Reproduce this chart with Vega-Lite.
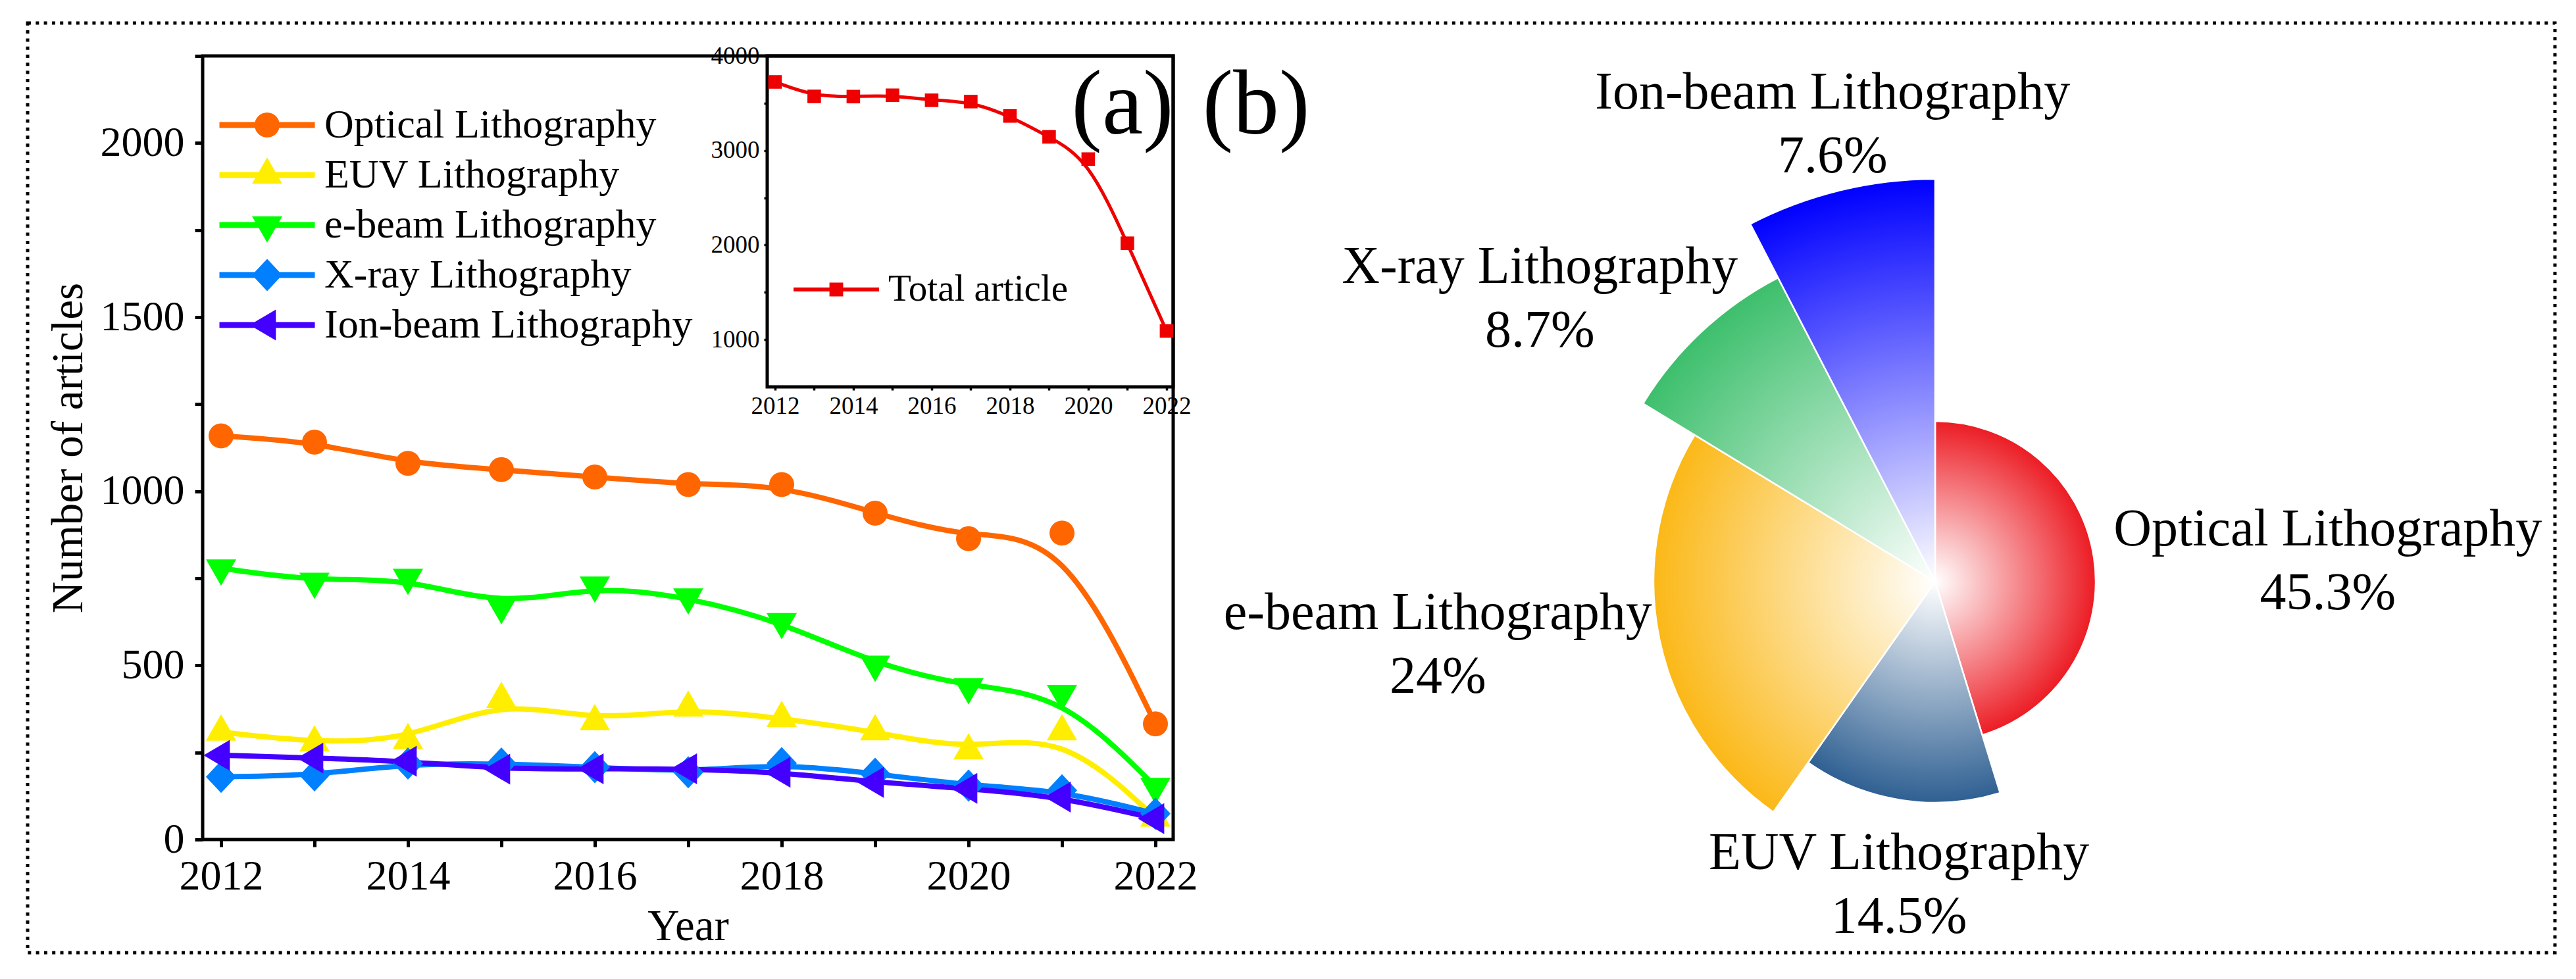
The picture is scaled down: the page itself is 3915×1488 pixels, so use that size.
{
  "$schema": "https://vega.github.io/schema/vega-lite/v6.json",
  "width": 3841,
  "height": 1413,
  "autosize": "none",
  "padding": {"left": 42, "top": 35, "right": 32, "bottom": 40},
  "background": "white",
  "config": {
    "view": {"stroke": "black", "strokeWidth": 5, "strokeDash": [5, 7.3]},
    "font": "Liberation Serif",
    "axis": {"labelFont": "Liberation Serif", "titleFont": "Liberation Serif", "labelColor": "black", "titleColor": "black", "tickColor": "black", "domain": false, "grid": false, "labelFlush": false, "labelOverlap": false, "titleFontWeight": "normal"},
    "legend": {"labelFont": "Liberation Serif", "labelColor": "black"},
    "text": {"font": "Liberation Serif", "color": "black"}
  },
  "datasets": {
    "lines": [
      {"series": "Optical Lithography", "year": 2012, "articles": 1159},
      {"series": "Optical Lithography", "year": 2013, "articles": 1141},
      {"series": "Optical Lithography", "year": 2014, "articles": 1080},
      {"series": "Optical Lithography", "year": 2015, "articles": 1062},
      {"series": "Optical Lithography", "year": 2016, "articles": 1041},
      {"series": "Optical Lithography", "year": 2017, "articles": 1019},
      {"series": "Optical Lithography", "year": 2018, "articles": 1019},
      {"series": "Optical Lithography", "year": 2019, "articles": 937},
      {"series": "Optical Lithography", "year": 2020, "articles": 864},
      {"series": "Optical Lithography", "year": 2021, "articles": 880},
      {"series": "Optical Lithography", "year": 2022, "articles": 332},
      {"series": "EUV Lithography", "year": 2012, "articles": 309},
      {"series": "EUV Lithography", "year": 2013, "articles": 278},
      {"series": "EUV Lithography", "year": 2014, "articles": 285},
      {"series": "EUV Lithography", "year": 2015, "articles": 403},
      {"series": "EUV Lithography", "year": 2016, "articles": 339},
      {"series": "EUV Lithography", "year": 2017, "articles": 378},
      {"series": "EUV Lithography", "year": 2018, "articles": 348},
      {"series": "EUV Lithography", "year": 2019, "articles": 310},
      {"series": "EUV Lithography", "year": 2020, "articles": 255},
      {"series": "EUV Lithography", "year": 2021, "articles": 310},
      {"series": "EUV Lithography", "year": 2022, "articles": 62},
      {"series": "e-beam Lithography", "year": 2012, "articles": 779},
      {"series": "e-beam Lithography", "year": 2013, "articles": 741},
      {"series": "e-beam Lithography", "year": 2014, "articles": 752},
      {"series": "e-beam Lithography", "year": 2015, "articles": 668},
      {"series": "e-beam Lithography", "year": 2016, "articles": 730},
      {"series": "e-beam Lithography", "year": 2017, "articles": 696},
      {"series": "e-beam Lithography", "year": 2018, "articles": 625},
      {"series": "e-beam Lithography", "year": 2019, "articles": 503},
      {"series": "e-beam Lithography", "year": 2020, "articles": 438},
      {"series": "e-beam Lithography", "year": 2021, "articles": 419},
      {"series": "e-beam Lithography", "year": 2022, "articles": 152},
      {"series": "X-ray Lithography", "year": 2012, "articles": 180},
      {"series": "X-ray Lithography", "year": 2013, "articles": 184},
      {"series": "X-ray Lithography", "year": 2014, "articles": 218},
      {"series": "X-ray Lithography", "year": 2015, "articles": 218},
      {"series": "X-ray Lithography", "year": 2016, "articles": 208},
      {"series": "X-ray Lithography", "year": 2017, "articles": 193},
      {"series": "X-ray Lithography", "year": 2018, "articles": 219},
      {"series": "X-ray Lithography", "year": 2019, "articles": 189},
      {"series": "X-ray Lithography", "year": 2020, "articles": 155},
      {"series": "X-ray Lithography", "year": 2021, "articles": 141},
      {"series": "X-ray Lithography", "year": 2022, "articles": 74},
      {"series": "Ion-beam Lithography", "year": 2012, "articles": 242},
      {"series": "Ion-beam Lithography", "year": 2013, "articles": 234},
      {"series": "Ion-beam Lithography", "year": 2014, "articles": 225},
      {"series": "Ion-beam Lithography", "year": 2015, "articles": 202},
      {"series": "Ion-beam Lithography", "year": 2016, "articles": 203},
      {"series": "Ion-beam Lithography", "year": 2017, "articles": 203},
      {"series": "Ion-beam Lithography", "year": 2018, "articles": 193},
      {"series": "Ion-beam Lithography", "year": 2019, "articles": 164},
      {"series": "Ion-beam Lithography", "year": 2020, "articles": 147},
      {"series": "Ion-beam Lithography", "year": 2021, "articles": 122},
      {"series": "Ion-beam Lithography", "year": 2022, "articles": 60}
    ],
    "total": [
      {"series": "Total article", "year": 2012, "total": 3725},
      {"series": "Total article", "year": 2013, "total": 3572},
      {"series": "Total article", "year": 2014, "total": 3570},
      {"series": "Total article", "year": 2015, "total": 3584},
      {"series": "Total article", "year": 2016, "total": 3531},
      {"series": "Total article", "year": 2017, "total": 3517},
      {"series": "Total article", "year": 2018, "total": 3365},
      {"series": "Total article", "year": 2019, "total": 3144},
      {"series": "Total article", "year": 2020, "total": 2909},
      {"series": "Total article", "year": 2021, "total": 2019},
      {"series": "Total article", "year": 2022, "total": 1091}
    ],
    "pie": [
      {"name": "Optical Lithography", "pct": 45.3, "rank": 1, "idx": 1, "label": "Optical Lithography\n45.3%"},
      {"name": "EUV Lithography", "pct": 14.5, "rank": 2, "idx": 2, "label": "EUV Lithography\n14.5%"},
      {"name": "e-beam Lithography", "pct": 24, "rank": 3, "idx": 3, "label": "e-beam Lithography\n24%"},
      {"name": "X-ray Lithography", "pct": 8.7, "rank": 4, "idx": 4, "label": "X-ray Lithography\n8.7%"},
      {"name": "Ion-beam Lithography", "pct": 7.6, "rank": 5, "idx": 5, "label": "Ion-beam Lithography\n7.6%"}
    ]
  },
  "resolve": {"scale": {"x": "independent", "y": "independent"}, "axis": {"x": "independent", "y": "independent"}},
  "layer": [
    {
      "layer": [
        {
          "data": {"values": [{}]},
          "mark": {"type": "rect", "filled": false, "color": "black", "strokeWidth": 5},
          "encoding": {
            "x": {"datum": 2011.803, "type": "quantitative",
                  "scale": {"domain": [2011.803, 2022.19], "range": [266, 1741], "nice": false, "zero": false},
                  "axis": {"orient": "bottom", "offset": -172, "values": [2012, 2013, 2014, 2015, 2016, 2017, 2018, 2019, 2020, 2021, 2022], "format": "d",
                           "labelExpr": "datum.value % 2 === 0 ? datum.label : ''", "labelFontSize": 64, "labelPadding": 13,
                           "tickSize": 11, "tickWidth": 5, "title": "Year", "titleFontSize": 67, "titleY": 152, "titleBaseline": "alphabetic",
                           "encode": {"ticks": {"update": {"y2": {"signal": "datum.value % 2 === 0 ? -24 : 11"}}}}}},
            "x2": {"datum": 2022.19},
            "y": {"datum": 0, "type": "quantitative",
                  "scale": {"domain": [0, 2250], "range": [1241, 50], "nice": false, "zero": false},
                  "axis": {"orient": "left", "offset": -266, "values": [0, 250, 500, 750, 1000, 1250, 1500, 1750, 2000, 2250], "format": "d",
                           "labelExpr": "datum.value % 500 === 0 ? datum.label : ''", "labelFontSize": 64, "labelPadding": 16,
                           "tickSize": 12, "tickWidth": 5, "title": "Number of articles", "titleFontSize": 67, "titleAngle": 270, "titleX": -184, "titleBaseline": "alphabetic",
                           "encode": {"ticks": {"update": {"x2": {"signal": "datum.value % 500 === 0 ? 24 : -12"}}}}}},
            "y2": {"datum": 2250}
          }
        },
        {
          "data": {"name": "lines"},
          "mark": {"type": "line", "interpolate": "basis", "strokeWidth": 8},
          "encoding": {
            "x": {"field": "year", "type": "quantitative", "scale": {"domain": [2011.803, 2022.19], "range": [266, 1741], "nice": false, "zero": false}},
            "y": {"field": "articles", "type": "quantitative", "scale": {"domain": [0, 2250], "range": [1241, 50], "nice": false, "zero": false}},
            "color": {"field": "series", "type": "nominal",
                      "scale": {"domain": ["Optical Lithography", "EUV Lithography", "e-beam Lithography", "X-ray Lithography", "Ion-beam Lithography"],
                                "range": ["#ff6600", "#ffee00", "#00ff00", "#0080ff", "#4400ff"]},
                      "legend": {"orient": "none", "legendX": 333, "legendY": 124, "direction": "vertical", "title": null, "padding": 0, "offset": 0,
                                 "labelFontSize": 62, "labelOffset": 56, "labelLimit": 3000, "rowPadding": 14,
                                 "symbolSize": 3844, "symbolStrokeWidth": 0, "symbolOpacity": 1,
                                 "encode": {"symbols": {"update": {
                                   "shape": {"signal": "datum.value === 'Optical Lithography' ? 'M-2.339 -0.145H2.339V0.145H-2.339Z M-0.613 0A0.613 0.613 0 1 1 0.613 0A0.613 0.613 0 1 1 -0.613 0Z' : datum.value === 'EUV Lithography' ? 'M-2.339 -0.145H2.339V0.145H-2.339Z M0 -0.861L0.742 0.429L-0.742 0.429Z' : datum.value === 'e-beam Lithography' ? 'M-2.339 -0.145H2.339V0.145H-2.339Z M-0.742 -0.429L0.742 -0.429L0 0.861Z' : datum.value === 'X-ray Lithography' ? 'M-2.339 -0.145H2.339V0.145H-2.339Z M0 -0.79L0.742 0L0 0.79L-0.742 0Z' : 'M-2.339 -0.145H2.339V0.145H-2.339Z M-0.861 0L0.429 -0.758L0.429 0.758Z'"},
                                   "size": {"value": 3844},
                                   "strokeWidth": {"value": 0},
                                   "opacity": {"value": 1}
                                 }}}}}
          }
        },
        {
          "data": {"name": "lines"},
          "mark": {"type": "point", "filled": true, "size": 2500, "opacity": 1, "strokeWidth": 0},
          "encoding": {
            "x": {"field": "year", "type": "quantitative", "scale": {"domain": [2011.803, 2022.19], "range": [266, 1741], "nice": false, "zero": false}},
            "y": {"field": "articles", "type": "quantitative", "scale": {"domain": [0, 2250], "range": [1241, 50], "nice": false, "zero": false}},
            "color": {"field": "series", "type": "nominal"},
            "shape": {"field": "series", "type": "nominal", "legend": null,
                      "scale": {"domain": ["Ion-beam Lithography", "X-ray Lithography", "e-beam Lithography", "EUV Lithography", "Optical Lithography"],
                                "range": ["M-1.067 0L0.533 -0.94L0.533 0.94Z", "M0 -0.98L0.92 0L0 0.98L-0.92 0Z", "M-0.92 -0.533L0.92 -0.533L0 1.067Z", "M0 -1.067L0.92 0.533L-0.92 0.533Z", "M-0.76 0A0.76 0.76 0 1 1 0.76 0A0.76 0.76 0 1 1 -0.76 0Z"]}}
          }
        },
        {
          "data": {"values": [{}]},
          "mark": {"type": "text", "text": "(a)", "fontSize": 140, "align": "center", "baseline": "alphabetic"},
          "encoding": {
            "x": {"datum": 2021.648, "type": "quantitative", "scale": {"domain": [2011.803, 2022.19], "range": [266, 1741], "nice": false, "zero": false}},
            "y": {"datum": 2027, "type": "quantitative", "scale": {"domain": [0, 2250], "range": [1241, 50], "nice": false, "zero": false}}
          }
        },
        {
          "data": {"values": [{}]},
          "mark": {"type": "text", "text": "(b)", "fontSize": 140, "align": "center", "baseline": "alphabetic"},
          "encoding": {
            "x": {"datum": 2023.078, "type": "quantitative", "scale": {"domain": [2011.803, 2022.19], "range": [266, 1741], "nice": false, "zero": false}},
            "y": {"datum": 2027, "type": "quantitative", "scale": {"domain": [0, 2250], "range": [1241, 50], "nice": false, "zero": false}}
          }
        }
      ]
    },
    {
      "layer": [
        {
          "data": {"values": [{}]},
          "mark": {"type": "rect", "filled": false, "color": "black", "strokeWidth": 5},
          "encoding": {
            "x": {"datum": 2011.8, "type": "quantitative",
                  "scale": {"domain": [2011.8, 2022.17], "range": [1124, 1741], "nice": false, "zero": false},
                  "axis": {"orient": "bottom", "offset": -860, "values": [2012, 2013, 2014, 2015, 2016, 2017, 2018, 2019, 2020, 2021, 2022], "format": "d",
                           "labelExpr": "datum.value % 2 === 0 ? datum.label : ''", "labelFontSize": 37, "labelPadding": 6,
                           "tickSize": 5, "tickWidth": 3.5, "title": null,
                           "encode": {"ticks": {"update": {"y2": {"signal": "datum.value % 2 === 0 ? -8 : 5"}}}}}},
            "x2": {"datum": 2022.17},
            "y": {"datum": 500, "type": "quantitative",
                  "scale": {"domain": [500, 4000], "range": [553, 50], "nice": false, "zero": false},
                  "axis": {"orient": "left", "offset": -1124, "values": [1000, 1500, 2000, 2500, 3000, 3500, 4000], "format": "d",
                           "labelExpr": "datum.value % 1000 === 0 ? datum.label : ''", "labelFontSize": 37, "labelPadding": 7,
                           "tickSize": 5, "tickWidth": 3.5, "title": null,
                           "encode": {"ticks": {"update": {"x2": {"signal": "datum.value % 1000 === 0 ? 8 : -5"}}}}}},
            "y2": {"datum": 4000}
          }
        },
        {
          "data": {"name": "total"},
          "mark": {"type": "line", "interpolate": "basis", "strokeWidth": 5},
          "encoding": {
            "x": {"field": "year", "type": "quantitative", "scale": {"domain": [2011.8, 2022.17], "range": [1124, 1741], "nice": false, "zero": false}},
            "y": {"field": "total", "type": "quantitative", "scale": {"domain": [500, 4000], "range": [553, 50], "nice": false, "zero": false}},
            "stroke": {"field": "series", "type": "nominal", "scale": {"domain": ["Total article"], "range": ["#ee0000"]},
                       "legend": {"orient": "none", "legendX": 1164, "legendY": 340, "direction": "vertical", "title": null, "padding": 0, "offset": 0,
                                  "labelFontSize": 57, "labelOffset": 14, "labelLimit": 3000,
                                  "symbolSize": 16900, "symbolStrokeWidth": 0, "symbolOpacity": 1,
                                  "encode": {"symbols": {"update": {
                                    "shape": {"value": "M-1 -0.046H1V0.046H-1Z M-0.16 -0.16H0.16V0.16H-0.16Z"},
                                    "fill": {"value": "#ee0000"},
                                    "size": {"value": 16900},
                                    "strokeWidth": {"value": 0},
                                    "opacity": {"value": 1}
                                  }}}}}
          }
        },
        {
          "data": {"name": "total"},
          "mark": {"type": "point", "shape": "square", "filled": true, "size": 424, "opacity": 1, "color": "#ee0000", "strokeWidth": 0},
          "encoding": {
            "x": {"field": "year", "type": "quantitative", "scale": {"domain": [2011.8, 2022.17], "range": [1124, 1741], "nice": false, "zero": false}},
            "y": {"field": "total", "type": "quantitative", "scale": {"domain": [500, 4000], "range": [553, 50], "nice": false, "zero": false}}
          }
        }
      ]
    },
    {
      "data": {"name": "pie"},
      "transform": [
        {"stack": "pct", "groupby": [], "sort": [{"field": "idx", "order": "ascending"}], "as": ["t0", "t1"]}
      ],
      "encoding": {
        "theta": {"field": "t0", "type": "quantitative", "stack": null, "scale": {"domain": [0, 100.1], "nice": false, "zero": false}},
        "radius": {"field": "rank", "type": "quantitative", "scale": {"type": "linear", "domain": [-1.652, 5], "range": [0, 612], "zero": false, "nice": false}},
        "x": {"datum": 0, "type": "quantitative", "scale": {"domain": [-1, 1], "range": [1899, 3899], "nice": false, "zero": false}, "axis": null},
        "y": {"datum": 0, "type": "quantitative", "scale": {"domain": [-1, 1], "range": [1849, -151], "nice": false, "zero": false}, "axis": null}
      },
      "layer": [
        {
          "mark": {"type": "arc", "stroke": "white", "strokeWidth": 2.5},
          "encoding": {
            "theta2": {"field": "t1"},
            "radius2": {"datum": -1.652},
            "fill": {
              "condition": [
                {"test": "datum.idx === 1", "value": {"gradient": "radial", "x1": 0.2443, "y1": 0.5113, "r1": 0, "x2": 0.2443, "y2": 0.5113, "r2": 0.5113, "stops": [{"offset": 0, "color": "#ffffff"}, {"offset": 1, "color": "#ec1c24"}]}},
                {"test": "datum.idx === 2", "value": {"gradient": "radial", "x1": 0.6405, "y1": 0, "r1": 0, "x2": 0.6405, "y2": 0, "r2": 1.0, "stops": [{"offset": 0, "color": "#ffffff"}, {"offset": 1, "color": "#2f6092"}]}},
                {"test": "datum.idx === 3", "value": {"gradient": "radial", "x1": 0.8733, "y1": 0.3889, "r1": 0, "x2": 0.8733, "y2": 0.3889, "r2": 0.7467, "stops": [{"offset": 0, "color": "#ffffff"}, {"offset": 1, "color": "#fbb817"}]}},
                {"test": "datum.idx === 4", "value": {"gradient": "radial", "x1": 0.9804, "y1": 1.0, "r1": 0, "x2": 0.9804, "y2": 1.0, "r2": 1.1255, "stops": [{"offset": 0, "color": "#ffffff"}, {"offset": 1, "color": "#3dbf6c"}]}}
              ],
              "value": {"gradient": "radial", "x1": 0.7296, "y1": 1.0, "r1": 0, "x2": 0.7296, "y2": 1.0, "r2": 1.0, "stops": [{"offset": 0, "color": "#ffffff"}, {"offset": 1, "color": "#0000ff"}]}
            }
          }
        },
        {
          "transform": [{"filter": "datum.idx === 1"}],
          "mark": {"type": "text", "fontSize": 80, "lineBreak": "\n", "lineHeight": 97, "align": "center", "baseline": "middle", "radiusOffset": 354, "thetaOffset": 1.508, "dy": -41},
          "encoding": {"text": {"field": "label", "type": "nominal"}}
        },
        {
          "transform": [{"filter": "datum.idx === 2"}],
          "mark": {"type": "text", "fontSize": 80, "lineBreak": "\n", "lineHeight": 97, "align": "center", "baseline": "middle", "radiusOffset": 121, "thetaOffset": 0.4185, "dy": -41},
          "encoding": {"text": {"field": "label", "type": "nominal"}}
        },
        {
          "transform": [{"filter": "datum.idx === 3"}],
          "mark": {"type": "text", "fontSize": 80, "lineBreak": "\n", "lineHeight": 97, "align": "center", "baseline": "middle", "radiusOffset": 333, "thetaOffset": 0.8418, "dy": -41},
          "encoding": {"text": {"field": "label", "type": "nominal"}}
        },
        {
          "transform": [{"filter": "datum.idx === 4"}],
          "mark": {"type": "text", "fontSize": 80, "lineBreak": "\n", "lineHeight": 97, "align": "center", "baseline": "middle", "radiusOffset": 223, "thetaOffset": 0.0815, "dy": -41},
          "encoding": {"text": {"field": "label", "type": "nominal"}}
        },
        {
          "transform": [{"filter": "datum.idx === 5"}],
          "mark": {"type": "text", "fontSize": 80, "lineBreak": "\n", "lineHeight": 97, "align": "center", "baseline": "middle", "radiusOffset": 107, "thetaOffset": 0.2588, "dy": -41},
          "encoding": {"text": {"field": "label", "type": "nominal"}}
        }
      ]
    }
  ]
}
